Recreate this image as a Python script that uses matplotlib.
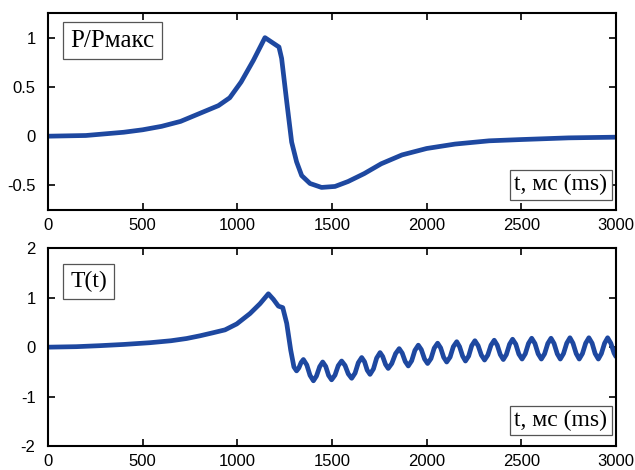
import matplotlib
matplotlib.use("Agg")
import matplotlib.pyplot as plt

# P/Pmax
t_p = [0, 200, 400, 500, 600, 700, 800, 900, 960, 1020, 1085, 1146, 1220, 1234,
       1261, 1287, 1313, 1340, 1384, 1445, 1516, 1585, 1670, 1760, 1870, 2000,
       2150, 2330, 2500, 2750, 3000]
p_val = [0, 0.007, 0.04, 0.065, 0.10, 0.15, 0.23, 0.31, 0.39, 0.55, 0.77, 1.0,
         0.905, 0.79, 0.35, -0.06, -0.26, -0.40, -0.48, -0.52, -0.51, -0.46,
         -0.38, -0.28, -0.19, -0.125, -0.08, -0.047, -0.034, -0.017, -0.01]

# T(t)
t_T = [0, 150, 273, 400, 538, 650, 732, 803, 870, 935, 997, 1067, 1120, 1164,
       1190, 1217, 1240, 1261, 1282, 1299, 1313,
       1325, 1337, 1349, 1367, 1384, 1402, 1418, 1435, 1451, 1467, 1482, 1498,
       1516, 1533, 1551, 1569, 1586, 1604, 1622, 1639, 1657, 1672, 1686, 1701,
       1719, 1736, 1754, 1768, 1783, 1797, 1816, 1836, 1855, 1871, 1887, 1903,
       1921, 1938, 1956, 1972, 1989, 2005, 2023, 2040, 2058, 2074, 2090, 2106,
       2124, 2141, 2159, 2174, 2190, 2205, 2222, 2238, 2255, 2272, 2289, 2306,
       2323, 2340, 2357, 2373, 2389, 2405, 2421, 2438, 2454, 2471, 2487, 2504,
       2521, 2538, 2555, 2572, 2589, 2606, 2623, 2640, 2657, 2673, 2690, 2706,
       2723, 2740, 2757, 2773, 2790, 2806, 2823, 2840, 2857, 2874, 2890, 2907,
       2923, 2940, 2956, 2973, 2990, 3000]
T_val = [0, 0.01, 0.03, 0.055, 0.09, 0.13, 0.175, 0.23, 0.29, 0.35, 0.47, 0.68,
         0.88, 1.08, 0.97, 0.83, 0.80, 0.48, -0.06, -0.40, -0.48,
         -0.42, -0.31, -0.25, -0.36, -0.57, -0.68, -0.585, -0.395, -0.30, -0.39,
         -0.57, -0.66, -0.565, -0.375, -0.28, -0.37, -0.54, -0.63, -0.525,
         -0.315, -0.21, -0.295, -0.465, -0.55, -0.44, -0.22, -0.11, -0.19,
         -0.35, -0.43, -0.33, -0.13, -0.03, -0.12, -0.29, -0.38, -0.275, -0.065,
         0.04, -0.05, -0.24, -0.33, -0.23, -0.02, 0.08, -0.015, -0.205, -0.30,
         -0.20, 0.01, 0.11, 0.01, -0.18, -0.28, -0.18, 0.03, 0.13, 0.03, -0.16,
         -0.26, -0.16, 0.04, 0.14, 0.04, -0.15, -0.25, -0.15, 0.06, 0.16, 0.06,
         -0.14, -0.24, -0.135, 0.075, 0.18, 0.075, -0.135, -0.24, -0.135, 0.075,
         0.18, 0.075, -0.135, -0.24, -0.13, 0.08, 0.19, 0.08, -0.13, -0.24,
         -0.13, 0.08, 0.19, 0.08, -0.13, -0.24, -0.13, 0.08, 0.19, 0.08, -0.12,
         -0.19]

x_ticks = [0, 500, 1000, 1500, 2000, 2500, 3000]
top_yticks = [-0.5, 0, 0.5, 1]
top_ylabels = ['-0.5', '0', '0.5', '1']
bot_yticks = [-2, -1, 0, 1, 2]

line_color = '#1e48a0'
serif = ['Liberation Serif', 'DejaVu Serif']

plt.rcParams['font.family'] = ['Liberation Sans', 'DejaVu Sans']
plt.rcParams['axes.unicode_minus'] = False

fig = plt.figure(figsize=(6.35, 4.70), dpi=100)
ax1 = fig.add_axes([0.0756, 0.553, 0.8944, 0.4193])
ax2 = fig.add_axes([0.0756, 0.051, 0.8944, 0.4207])

ax1.plot(t_p, p_val, color=line_color, lw=3.4, solid_joinstyle='round',
         solid_capstyle='round')
ax1.set_ylim(-0.75, 1.25)
ax1.set_yticks(top_yticks)
ax1.set_yticklabels(top_ylabels)

ax2.plot(t_T, T_val, color=line_color, lw=3.4, solid_joinstyle='round',
         solid_capstyle='round')
ax2.set_ylim(-2, 2)
ax2.set_yticks(bot_yticks)

box = dict(boxstyle='square,pad=0.18', fc='white', ec='#555555', lw=0.9)
box_big = dict(boxstyle='square,pad=0.3', fc='white', ec='#555555', lw=0.9)
for ax in (ax1, ax2):
    ax.set_xlim(0, 3000)
    ax.set_xticks(x_ticks)
    ax.tick_params(direction='in', top=True, right=True, length=5, width=1.2,
                   labelsize=12)
    ax.tick_params(axis='y', pad=9)
    ax.tick_params(axis='x', pad=6)
    for s in ax.spines.values():
        s.set_linewidth(1.5)
    ax.text(0.985, 0.075, 't, мс (ms)', transform=ax.transAxes, ha='right',
            va='bottom', fontsize=17, family=serif, bbox=box)

ax1.text(0.039, 0.915, 'P/Pмакс', transform=ax1.transAxes, ha='left', va='top',
         fontsize=18, family=serif, bbox=box_big)
ax2.text(0.039, 0.885, 'T(t)', transform=ax2.transAxes, ha='left', va='top',
         fontsize=17, family=serif, bbox=box_big)

fig.savefig('out.png', dpi=100)
